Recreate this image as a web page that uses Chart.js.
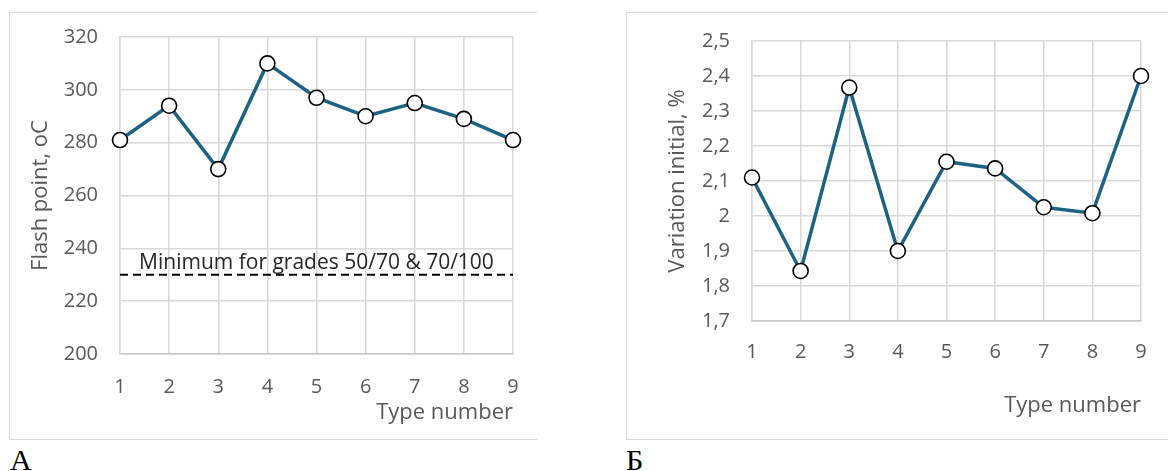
<!DOCTYPE html>
<html>
<head>
<meta charset="utf-8">
<script src="https://cdn.jsdelivr.net/npm/chart.js@4.4.1/dist/chart.umd.min.js"></script>
<style>
  body { margin: 0; background: #fff; width: 1175px; height: 471px; position: relative; overflow: hidden; }
  .box { position: absolute; border: 1.5px solid #d9d9d9; border-right: none; box-sizing: border-box; }
  canvas { position: absolute; }
  .tag { position: absolute; font-family: "Liberation Serif", serif; font-size: 30px; line-height: 30px; color: #000; }
</style>
</head>
<body>
<div class="box" style="left:9px;top:12px;width:528px;height:428px"></div>
<div class="box" style="left:626px;top:12px;width:542px;height:428px"></div>
<canvas id="chartA" width="528" height="427" style="left:9px;top:12px"></canvas>
<canvas id="chartB" width="542" height="427" style="left:626px;top:12px"></canvas>
<div class="tag" style="left:10px;top:445px">А</div>
<div class="tag" style="left:626px;top:445px">Б</div>
<script>
const typeNumbers = ["1", "2", "3", "4", "5", "6", "7", "8", "9"];
const flashPoint = [281, 294, 270, 310, 297, 290, 295, 289, 281];
const flashMinimum = 230;
const minimumLabel = "Minimum for grades 50/70 & 70/100";
const variationInitial = [2.11, 1.843, 2.367, 1.9, 2.155, 2.136, 2.025, 2.008, 2.4];
const variationTicks = ["1,7", "1,8", "1,9", "2", "2,1", "2,2", "2,3", "2,4", "2,5"];

const lineColor = "#1d6282";
const gridColor = "#d9d9d9";
const textColor = "#595959";

Chart.defaults.font.family = "'Open Sans', sans-serif";
Chart.defaults.color = textColor;

function seriesDataset(values) {
    return {
        data: values,
        borderColor: lineColor,
        borderWidth: 3.5,
        pointRadius: 7.5,
        pointBackgroundColor: "#fff",
        pointBorderColor: "#000",
        pointBorderWidth: 1.6,
        tension: 0
    };
}

// text above the dashed minimum line
const minLabelPlugin = {
    id: "minLabel",
    afterDatasetsDraw(chart) {
        const x = chart.scales.x;
        const y = chart.scales.y;
        const ctx = chart.ctx;
        ctx.save();
        ctx.font = "21px 'Open Sans'";
        ctx.fillStyle = "#262626";
        ctx.textAlign = "center";
        ctx.textBaseline = "alphabetic";
        ctx.fillText(minimumLabel, x.getPixelForValue(4), y.getPixelForValue(flashMinimum) - 6);
        ctx.restore();
    }
};

// gap between axis and labels is made with an invisible tick, so the
// tick padding does not push the plot area in
function gridOpts(gap) {
    return { color: gridColor, lineWidth: 1.5, tickLength: gap, tickColor: "rgba(0,0,0,0)" };
}

function xAxis(height, gap, titlePad) {
    return {
        grid: gridOpts(gap),
        border: { color: "#c8c8c8", width: 1.5 },
        ticks: { font: { size: 20 }, padding: 0, maxRotation: 0 },
        title: {
            display: true, text: "Type number", align: "end",
            font: { size: 22 }, padding: { top: 0, bottom: titlePad }
        },
        afterFit(scale) { scale.height = height; }
    };
}

// chart А
new Chart(document.getElementById("chartA"), {
    type: "line",
    data: {
        labels: typeNumbers,
        datasets: [
            seriesDataset(flashPoint),
            {
                data: typeNumbers.map(() => flashMinimum),
                borderColor: "#000",
                borderWidth: 2,
                borderDash: [8, 5],
                pointRadius: 0
            }
        ]
    },
    options: {
        responsive: false,
        animation: false,
        events: [],
        layout: { padding: { top: 25, right: 24, bottom: 0, left: 0 } },
        plugins: { legend: { display: false }, tooltip: { enabled: false } },
        scales: {
            x: xAxis(85, 21, 13),
            y: {
                min: 200, max: 320,
                ticks: { stepSize: 20, font: { size: 20 }, padding: 0 },
                grid: gridOpts(22),
                border: { color: gridColor, width: 1.5 },
                title: { display: true, text: "Flash point, oC", font: { size: 22 }, padding: { top: 19, bottom: 0 } },
                afterFit(scale) { scale.width = 111; }
            }
        }
    },
    plugins: [minLabelPlugin]
});

// chart Б
new Chart(document.getElementById("chartB"), {
    type: "line",
    data: {
        labels: typeNumbers,
        datasets: [seriesDataset(variationInitial)]
    },
    options: {
        responsive: false,
        animation: false,
        events: [],
        layout: { padding: { top: 29, right: 27, bottom: 0, left: 0 } },
        plugins: { legend: { display: false }, tooltip: { enabled: false } },
        scales: {
            x: xAxis(118, 19, 20),
            y: {
                min: 1.7, max: 2.5,
                ticks: {
                    stepSize: 0.1, font: { size: 20 }, padding: 0,
                    callback: (v, i) => variationTicks[i]
                },
                grid: gridOpts(22),
                border: { color: gridColor, width: 1.5 },
                title: { display: true, text: "Variation initial, %", font: { size: 22 }, padding: { top: 39, bottom: 0 } },
                afterFit(scale) { scale.width = 126; }
            }
        }
    }
});
</script>
</body>
</html>
